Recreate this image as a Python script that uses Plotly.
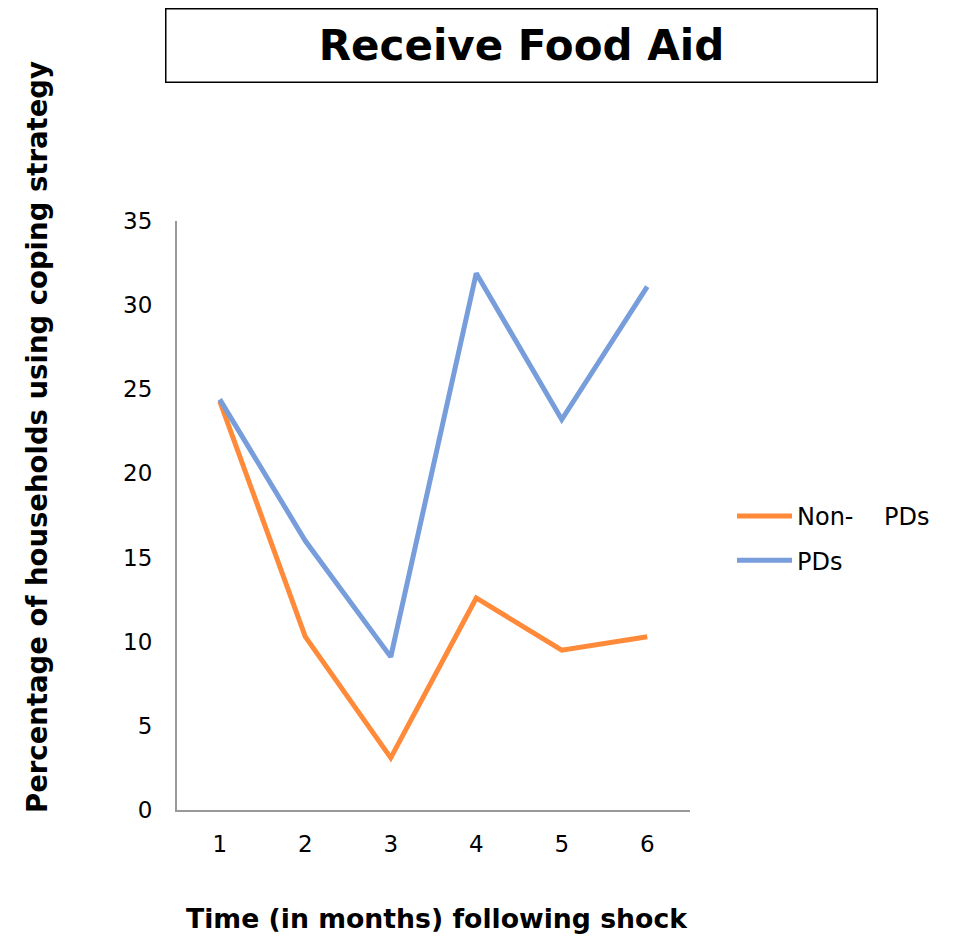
import plotly.graph_objects as go

months = ["1", "2", "3", "4", "5", "6"]
non_pds = [24.3, 10.3, 3.1, 12.6, 9.5, 10.3]
pds = [24.4, 16.0, 9.1, 31.9, 23.2, 31.1]
y_ticks = [0, 5, 10, 15, 20, 25, 30, 35]

W, H = 953, 939
OFF = 8  # page body margin
L, R, T, B = 177 - OFF, W - (690 - OFF), 221 - OFF, H - (810 - OFF)

fig = go.Figure()
fig.add_trace(go.Scatter(x=months, y=non_pds, mode="lines", name="Non-\u00a0\u00a0\u00a0\u00a0PDs",
                         line=dict(color="#FF8A3A", width=5), legendgroup="a"))
fig.add_trace(go.Scatter(x=months, y=pds, mode="lines", name="PDs",
                         line=dict(color="#779DDB", width=5), legendgroup="b"))

font_fam = "DejaVu Sans, Lato, sans-serif"
pw = W - L - R
ph = H - T - B


def px(xp):
    return (xp - OFF - L) / pw


def py(yp):
    return (H - B - (yp - OFF)) / ph


fig.update_layout(
    width=W, height=H,
    margin=dict(l=L, r=R, t=T, b=B, autoexpand=False),
    paper_bgcolor="white", plot_bgcolor="white",
    font=dict(family=font_fam, color="black"),
    xaxis=dict(type="category", range=[-0.5, 5.5], showgrid=False, zeroline=False,
               showline=True, linecolor="#999999", linewidth=2, ticks="",
               tickfont=dict(size=23), ticklabelstandoff=12),
    yaxis=dict(range=[0, 35], tickvals=y_ticks, showgrid=False, zeroline=False,
               showline=True, linecolor="#999999", linewidth=2, ticks="",
               tickfont=dict(size=23), ticklabelstandoff=18),
    legend=dict(x=px(732), y=py(494), xanchor="left", yanchor="top",
                font=dict(size=24), itemwidth=55, tracegroupgap=10, traceorder="grouped",
                bgcolor="rgba(0,0,0,0)"),
    showlegend=True,
)

fig.add_annotation(text="<b>Receive Food Aid</b>", xref="paper", yref="paper",
                   x=px(521), y=py(45.5), xanchor="center", yanchor="middle",
                   showarrow=False, font=dict(size=42, family=font_fam),
                   bordercolor="black", borderwidth=1.5, width=708, height=70, bgcolor="white")
fig.add_annotation(text="<b>Percentage of households using coping strategy</b>", xref="paper", yref="paper",
                   x=px(37), y=py(437), xanchor="center", yanchor="middle",
                   showarrow=False, textangle=-90, font=dict(size=27.5, family=font_fam))
fig.add_annotation(text="<b>Time (in months) following shock</b>", xref="paper", yref="paper",
                   x=px(437), y=py(918), xanchor="center", yanchor="middle",
                   showarrow=False, font=dict(size=26.7, family=font_fam))

fig.write_html("out.html")
